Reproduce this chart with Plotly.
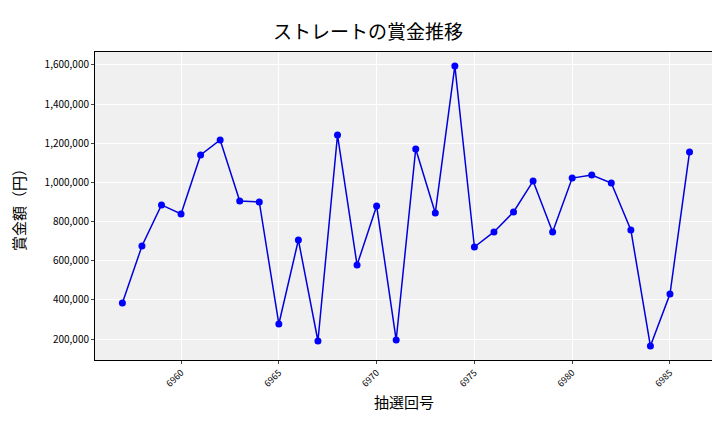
import plotly.graph_objects as go

draws = list(range(6957, 6987))
prizes = [384000, 675000, 885000, 839000, 1140000, 1217000, 905000, 900000, 277000, 706000,
          190000, 1242000, 578000, 880000, 195000, 1171000, 844000, 1595000, 670000, 747000,
          849000, 1007000, 747000, 1022000, 1038000, 997000, 757000, 164000, 430000, 1155000]
x_ticks = [6960, 6965, 6970, 6975, 6980, 6985]
y_ticks = [200000, 400000, 600000, 800000, 1000000, 1200000, 1400000, 1600000]

fig = go.Figure(go.Scatter(x=draws, y=prizes, mode="lines+markers",
                           line=dict(color="#0000dd", width=1.5),
                           marker=dict(color="#0000ff", size=7)))
font = "Noto Sans CJK JP"
fig.update_layout(
    width=720, height=432, margin=dict(l=87, r=15, t=44, b=80),
    paper_bgcolor="white", plot_bgcolor="#f0f0f0", showlegend=False,
    title=dict(text="ストレートの賞金推移", x=0.5, xanchor="center", y=0.96,
               font=dict(family=font, size=19, color="black")),
    font=dict(family=font, color="black"),
)
fig.update_xaxes(range=[6955.6, 6987.2], tickvals=x_ticks, tickangle=-45,
                 tickfont=dict(size=9), gridcolor="white", showline=True,
                 linecolor="black", mirror=True, ticks="outside", ticklen=3,
                 title=dict(text="抽選回号", font=dict(size=15), standoff=8), zeroline=False)
fig.update_yaxes(range=[93000, 1666000], tickvals=y_ticks, tickformat=",",
                 tickfont=dict(size=10), gridcolor="white", showline=True,
                 linecolor="black", mirror=True, ticks="outside", ticklen=3,
                 title=dict(text="賞金額（円）", font=dict(size=15)), zeroline=False)
fig.write_html("out.html")
